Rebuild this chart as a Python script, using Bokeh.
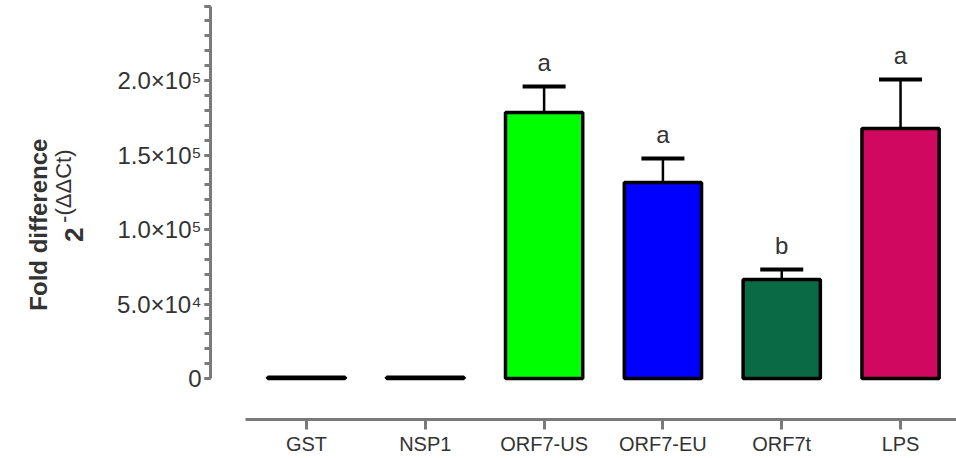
import math
from bokeh.plotting import figure
from bokeh.layouts import row
from bokeh.models import (Range1d, FixedTicker, SingleIntervalTicker, Whisker,
                          TeeHead, ColumnDataSource)
from bokeh.core.properties import value
from bokeh.embed import file_html
from bokeh.resources import INLINE

# ---- data ----
groups = ["GST", "NSP1", "ORF7-US", "ORF7-EU", "ORF7t", "LPS"]
fold = [900, 900, 178500, 131500, 66400, 167800]
sem = [0, 0, 17500, 16100, 6700, 32800]
letters = ["", "", "a", "a", "b", "a"]
colors = ["#000000", "#000000", "#00FF00", "#0000FF", "#0A6A46", "#D0085F"]
y_ticks = [0, 50000, 100000, 150000, 200000, 250000]
# the top label is cut off by the picture's edge in the reference
y_tick_labels = ["0", "5.0×10⁴", "1.0×10⁵", "1.5×10⁵", "2.0×10⁵", ""]
y_title = "Fold difference"
y_sub_base = "2"
y_sub_sup = "-(ΔΔCt)"

FONT = "Liberation Sans"
TXT = "#333333"
AX = "#7a7a7a"
W, H = 956, 458
LW = 100  # width of the title strip

xs = list(range(len(groups)))
src = ColumnDataSource(dict(x=xs, fold=fold, color=colors))

wx, wlow, wup, wlet = [], [], [], []
for i, (f, s, l) in enumerate(zip(fold, sem, letters)):
    if s > 0:
        wx.append(i); wlow.append(f); wup.append(f + s); wlet.append(l)
wsrc = ColumnDataSource(dict(x=wx, lower=wlow, upper=wup, letter=wlet))

p = figure(width=W - LW, height=H,
           x_range=Range1d(-0.808, 5.471), y_range=Range1d(-27500, 253700),
           output_backend="svg", toolbar_location=None,
           min_border_left=110, min_border_right=0, min_border_top=0,
           min_border_bottom=39)
p.grid.visible = False
p.outline_line_color = None

# bars
p.vbar(x="x", top="fold", bottom=0, width=0.65, fill_color="color",
       line_color="black", line_width=3.5, source=src)

# error bars
w = Whisker(base="x", upper="upper", lower="lower", source=wsrc,
            dimension="height", line_color="black", line_width=2.5,
            upper_head=TeeHead(size=43, line_width=4, line_color="black"),
            lower_head=None)
p.add_layout(w)

# significance letters
p.text(x="x", y="upper", text="letter", source=wsrc, text_align="center",
       text_baseline="alphabetic", y_offset=-24,
       text_font=value(FONT), text_font_size="24px", text_color=TXT)

# x axis
xa = p.xaxis[0]
xa.ticker = FixedTicker(ticks=xs)
xa.major_label_overrides = {i: g for i, g in enumerate(groups)}
xa.bounds = (-0.51, 5.471)
xa.axis_line_color = AX
xa.axis_line_width = 3
xa.major_tick_line_color = AX
xa.major_tick_line_width = 3
xa.major_tick_out = 10
xa.major_tick_in = 0
xa.minor_tick_line_color = None
xa.major_label_standoff = 3
xa.major_label_text_font = FONT
xa.major_label_text_font_size = "20px"
xa.major_label_text_color = TXT

# y axis
ya = p.yaxis[0]
ya.ticker = SingleIntervalTicker(interval=50000, num_minor_ticks=5)
ya.major_label_overrides = {t: l for t, l in zip(y_ticks, y_tick_labels)}
ya.bounds = (0, 250000)
ya.axis_line_color = AX
ya.axis_line_width = 3
ya.major_tick_line_color = AX
ya.major_tick_line_width = 3
ya.major_tick_out = 6
ya.major_tick_in = 0
ya.minor_tick_line_color = AX
ya.minor_tick_line_width = 3
ya.minor_tick_out = 6
ya.minor_tick_in = 0
ya.major_label_standoff = 3
ya.major_label_text_font = FONT
ya.major_label_text_font_size = "24px"
ya.major_label_text_color = TXT

# title strip on the left (y axis title with superscript)
t = figure(width=LW, height=H, x_range=Range1d(0, LW), y_range=Range1d(0, H),
           output_backend="svg", toolbar_location=None,
           x_axis_location=None, y_axis_location=None,
           min_border_left=0, min_border_right=0, min_border_top=0,
           min_border_bottom=0)
t.grid.visible = False
t.outline_line_color = None
t.text(x=[38], y=[H - 245], text=[y_title], angle=math.pi / 2,
       text_align="center", text_baseline="middle",
       text_font=value(FONT), text_font_style="bold",
       text_font_size="24px", text_color=TXT)
t.text(x=[73], y=[H - 256], text=[y_sub_base], angle=math.pi / 2,
       text_align="center", text_baseline="middle",
       text_font=value(FONT), text_font_style="bold",
       text_font_size="26px", text_color=TXT)
t.text(x=[63], y=[H - 203], text=[y_sub_sup], angle=math.pi / 2,
       text_align="center", text_baseline="middle",
       text_font=value(FONT), text_font_size="22px", text_color=TXT)

layout = row(t, p)
open("out.html", "w").write(file_html(layout, INLINE))
